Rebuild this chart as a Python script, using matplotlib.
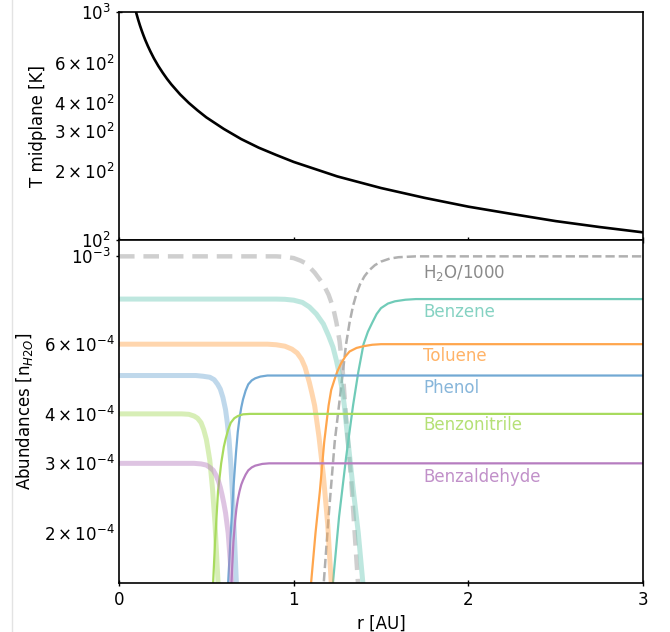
import matplotlib
matplotlib.use("Agg")
import numpy as np
import matplotlib.pyplot as plt
from matplotlib.lines import Line2D

# ---------------- data ----------------
r_T = [0.09, 0.1, 0.11, 0.12, 0.13, 0.14, 0.15, 0.165, 0.18, 0.2, 0.225, 0.25, 0.275, 0.3,
       0.35, 0.4, 0.45, 0.5, 0.6, 0.7, 0.8, 0.9, 1.0, 1.25, 1.5, 1.75, 2.0, 2.25, 2.5,
       2.75, 3.0]
T_mid = [1052, 983, 924, 873, 829, 790, 755, 710, 671, 626, 580, 542, 509, 481,
         435, 399, 370, 345, 307, 277, 254, 236, 220, 190, 169, 153, 140, 130, 121,
         114, 108]

UNIT = 1e-4  # abundances below are in units of 1e-4

# H2O / 1000
h2o_ice_r = [0, 0.9, 0.95, 1.0, 1.04, 1.07, 1.12, 1.17, 1.2, 1.225, 1.245, 1.263, 1.282,
             1.30, 1.33, 1.368, 1.38]
h2o_ice_v = [10, 10, 9.97, 9.9, 9.75, 9.6, 9.1, 8.5, 8.0, 7.45, 6.8, 6.1, 5.06,
             3.9, 2.7, 1.5, 1.2]
h2o_gas_r = [1.15, 1.17, 1.2, 1.235, 1.27, 1.30, 1.32, 1.34, 1.36, 1.38, 1.405, 1.43,
             1.465, 1.5, 1.55, 1.6, 1.7, 3.0]
h2o_gas_v = [1.2, 1.45, 2.2, 3.4, 4.6, 6.0, 6.8, 7.5, 8.05, 8.5, 8.9, 9.2,
             9.5, 9.7, 9.87, 9.95, 10, 10]

# Benzene
benz_ice_r = [0, 0.9, 0.95, 1.0, 1.05, 1.09, 1.13, 1.17, 1.20, 1.225, 1.245, 1.263,
              1.278, 1.29, 1.31, 1.34, 1.37, 1.396, 1.41]
benz_ice_v = [7.8, 7.8, 7.79, 7.75, 7.65, 7.45, 7.15, 6.75, 6.3, 5.9, 5.45, 5.0,
              4.6, 4.2, 3.45, 2.6, 2.0, 1.5, 1.3]
benz_gas_r = [1.21, 1.225, 1.26, 1.3, 1.34, 1.37, 1.40, 1.425, 1.45, 1.475, 1.5, 1.54,
              1.58, 1.64, 1.7, 3.0]
benz_gas_v = [1.2, 1.5, 2.2, 3.1, 4.2, 5.1, 6.0, 6.45, 6.8, 7.15, 7.4, 7.6,
              7.7, 7.77, 7.8, 7.8]

# Toluene
tol_ice_r = [0, 0.85, 0.9, 0.95, 0.99, 1.02, 1.045, 1.065, 1.09, 1.105, 1.12, 1.145,
             1.17, 1.195, 1.215, 1.23]
tol_ice_v = [6, 6, 5.98, 5.93, 5.83, 5.7, 5.5, 5.25, 4.8, 4.5, 4.2, 3.5,
             2.8, 2.1, 1.5, 1.2]
tol_gas_r = [1.09, 1.10, 1.125, 1.15, 1.175, 1.2, 1.215, 1.235, 1.25, 1.27, 1.295, 1.32,
             1.36, 1.4, 1.45, 1.5, 3.0]
tol_gas_v = [1.2, 1.5, 2.0, 2.55, 3.4, 4.2, 4.6, 4.9, 5.12, 5.35, 5.58, 5.75,
             5.87, 5.93, 5.98, 6, 6]

# Phenol
phen_ice_r = [0, 0.44, 0.48, 0.52, 0.545, 0.565, 0.58, 0.595, 0.61, 0.62, 0.63, 0.64,
              0.65, 0.66, 0.672, 0.68]
phen_ice_v = [5, 5, 4.98, 4.95, 4.88, 4.75, 4.62, 4.4, 4.1, 3.8, 3.45, 3.0,
              2.5, 2.0, 1.5, 1.2]
phen_gas_r = [0.618, 0.625, 0.64, 0.655, 0.67, 0.68, 0.69, 0.70, 0.71, 0.725, 0.74,
              0.76, 0.78, 0.81, 0.85, 3.0]
phen_gas_v = [1.2, 1.5, 2.0, 2.6, 3.2, 3.6, 3.9, 4.15, 4.35, 4.58, 4.75,
              4.86, 4.92, 4.97, 5, 5]

# Benzonitrile
bzn_ice_r = [0, 0.36, 0.40, 0.43, 0.45, 0.47, 0.485, 0.50, 0.51, 0.52, 0.535, 0.55,
             0.567, 0.575]
bzn_ice_v = [4, 4, 3.99, 3.95, 3.9, 3.8, 3.65, 3.45, 3.25, 3.05, 2.6, 2.1,
             1.5, 1.2]
bzn_gas_r = [0.533, 0.539, 0.55, 0.567, 0.585, 0.60, 0.61, 0.625, 0.64, 0.66, 0.68,
             0.71, 0.75, 3.0]
bzn_gas_v = [1.2, 1.5, 1.9, 2.55, 3.0, 3.3, 3.45, 3.65, 3.8, 3.9, 3.95,
             3.99, 4, 4]

# Benzaldehyde
bzd_ice_r = [0, 0.43, 0.47, 0.5, 0.52, 0.54, 0.555, 0.57, 0.58, 0.59, 0.60, 0.61,
             0.625, 0.637, 0.645, 0.65]
bzd_ice_v = [3, 3, 2.99, 2.97, 2.93, 2.88, 2.8, 2.7, 2.61, 2.5, 2.38, 2.25,
             2.0, 1.7, 1.5, 1.2]
bzd_gas_r = [0.638, 0.644, 0.655, 0.665, 0.672, 0.68, 0.69, 0.70, 0.71, 0.725, 0.74,
             0.76, 0.78, 0.82, 0.86, 3.0]
bzd_gas_v = [1.2, 1.5, 1.9, 2.15, 2.3, 2.43, 2.55, 2.65, 2.72, 2.81, 2.88,
             2.93, 2.96, 2.99, 3, 3]

species = ["Benzene", "Toluene", "Phenol", "Benzonitrile", "Benzaldehyde"]
colors = ["#70cbb8", "#ffa64d", "#72a9d4", "#a8db5e", "#b67dc0"]
ice_r = [benz_ice_r, tol_ice_r, phen_ice_r, bzn_ice_r, bzd_ice_r]
ice_v = [benz_ice_v, tol_ice_v, phen_ice_v, bzn_ice_v, bzd_ice_v]
gas_r = [benz_gas_r, tol_gas_r, phen_gas_r, bzn_gas_r, bzd_gas_r]
gas_v = [benz_gas_v, tol_gas_v, phen_gas_v, bzn_gas_v, bzd_gas_v]
label_r = 1.74
label_v = [7.23, 5.6, 4.66, 3.74, 2.77]
h2o_label_v = 9.06

# ---------------- figure ----------------
fig = plt.figure(figsize=(6.7, 6.32), dpi=100)
ax1 = fig.add_axes([0.1776, 0.6203, 0.7821, 0.3607])
ax2 = fig.add_axes([0.1776, 0.0783, 0.7821, 0.5420], sharex=ax1)

fig.add_artist(Line2D([11.5 / 670, 11.5 / 670], [0, 1], color="#e3e3e3", lw=1.0))

ax1.plot(r_T, T_mid, color="black", lw=1.9)
ax1.set_yscale("log")
ax1.set_ylim(100, 1000)
ax1.set_ylabel("T midplane [K]", fontsize=12)
ax1.tick_params(labelbottom=False)

# H2O
ax2.plot(h2o_ice_r, np.array(h2o_ice_v) * UNIT, color="#cfcfcf", lw=3.2, ls=(0, (3.5, 2.0)))
ax2.plot(h2o_gas_r, np.array(h2o_gas_v) * UNIT, color="#b0b0b0", lw=1.8, ls=(0, (3.7, 1.6)))
ax2.text(label_r, h2o_label_v * UNIT, "H$_2$O/1000", color="#8a8a8a", fontsize=12, va="center")

for name, c, ir, iv, gr, gv, lv in zip(species, colors, ice_r, ice_v, gas_r, gas_v, label_v):
    ax2.plot(ir, np.array(iv) * UNIT, color=c, lw=3.6, alpha=0.45, solid_capstyle="butt",
             solid_joinstyle="round")
    ax2.plot(gr, np.array(gv) * UNIT, color=c, lw=1.6, solid_joinstyle="round")
    ax2.text(label_r, lv * UNIT, name, color=c, alpha=0.85, fontsize=12, va="center")

ax2.set_yscale("log")
ax2.set_ylim(1.5e-4, 1.1e-3)
ax2.set_xlim(0, 3)
ax2.set_xticks([0, 1, 2, 3])
ax2.set_xlabel("r [AU]", fontsize=12)
ax2.set_ylabel("Abundances [n$_{H2O}$]", fontsize=12)

for ax in (ax1, ax2):
    for s in ax.spines.values():
        s.set_linewidth(1.2)
    ax.tick_params(which="major", direction="inout", length=5, width=1.0, labelsize=12)
    ax.tick_params(which="minor", length=0, labelsize=12)

ax1.yaxis.set_label_coords(-0.138, 0.5)
ax2.yaxis.set_label_coords(-0.161, 0.5)

fig.savefig("out.png", dpi=100)
